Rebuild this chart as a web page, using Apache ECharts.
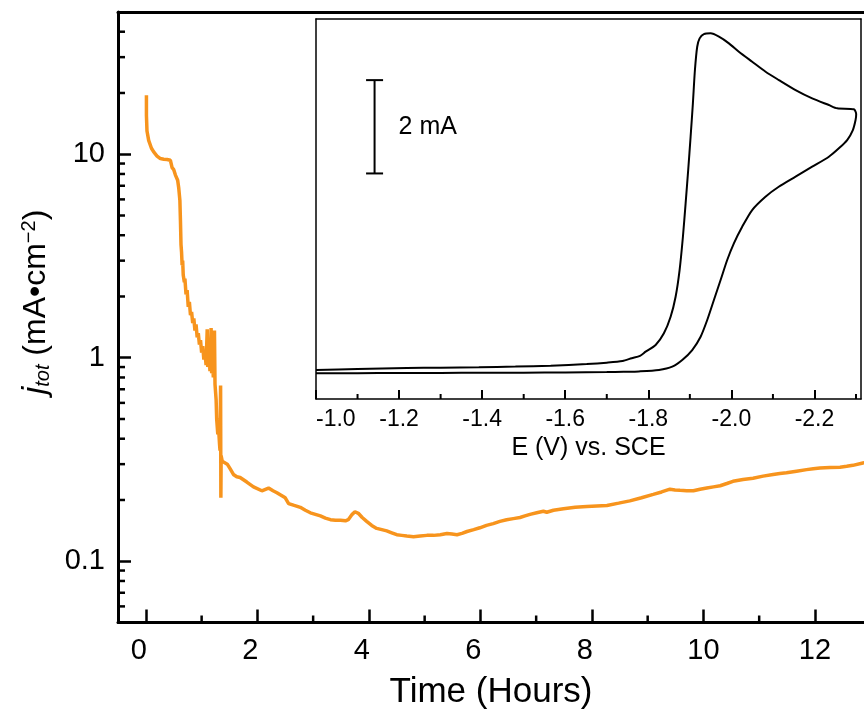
<!DOCTYPE html>
<html><head><meta charset="utf-8">
<script src="https://cdn.jsdelivr.net/npm/echarts@6/dist/echarts.min.js"></script>
<style>html,body{margin:0;padding:0;background:#fff}#c{width:864px;height:717px}</style>
</head><body><div id="c"></div>
<script>
// ---- main chart data: total current density vs time ----
const timeH = [0.01,0.01,0.02,0.05,0.10,0.14,0.20,0.26,0.32,0.38,0.44,0.46,0.47,0.50,0.53,0.57,0.59,0.61,0.62,0.63,0.64,0.65,0.66,0.67,0.69,0.70,0.72,0.74,0.76,0.78,0.80,0.82,0.84,0.86,0.88,0.90,0.92,0.94,0.96,0.98,1.00,1.02,1.04,1.06,1.08,1.10,1.11,1.13,1.15,1.17,1.18,1.20,1.21,1.23,1.24,1.26,1.27,1.29,1.30,1.32,1.33,1.34,1.345,1.35,1.37,1.40,1.46,1.51,1.57,1.63,1.69,1.72,1.81,1.93,2.08,2.20,2.28,2.35,2.50,2.56,2.66,2.77,2.86,2.95,3.04,3.13,3.22,3.31,3.40,3.49,3.58,3.63,3.70,3.75,3.81,3.88,3.96,4.05,4.14,4.23,4.32,4.41,4.50,4.59,4.68,4.80,4.92,5.04,5.16,5.28,5.40,5.49,5.58,5.67,5.76,5.88,5.99,6.11,6.23,6.35,6.47,6.59,6.71,6.80,6.89,7.01,7.13,7.19,7.31,7.49,7.70,7.91,8.09,8.27,8.48,8.68,8.89,9.10,9.25,9.40,9.49,9.58,9.70,9.82,9.94,10.06,10.18,10.30,10.42,10.53,10.71,10.89,11.07,11.25,11.37,11.49,11.67,11.85,11.97,12.09,12.27,12.45,12.57,12.68,12.86,12.95];
const jtot = [19.5,15.5,13.0,11.7,10.7,10.26,9.8,9.52,9.45,9.42,9.34,9.3,8.6,8.4,7.9,7.45,6.8,5.93,4.73,3.6,3.3,2.85,3.0,2.55,2.35,2.45,2.05,2.15,1.78,1.88,1.62,1.68,1.48,1.56,1.36,1.46,1.26,1.32,1.16,1.22,1.06,1.14,0.98,1.05,0.92,1.38,0.90,1.02,0.86,1.40,0.84,0.92,0.80,1.36,0.74,0.62,0.50,0.42,0.47,0.38,0.35,0.73,0.205,0.33,0.31,0.31,0.30,0.285,0.267,0.26,0.258,0.262,0.245,0.232,0.222,0.229,0.222,0.217,0.205,0.192,0.188,0.184,0.178,0.173,0.170,0.167,0.163,0.160,0.159,0.159,0.158,0.160,0.170,0.175,0.172,0.164,0.157,0.150,0.145,0.143,0.141,0.138,0.135,0.134,0.133,0.132,0.133,0.134,0.134,0.135,0.137,0.136,0.135,0.137,0.140,0.143,0.146,0.150,0.153,0.157,0.160,0.162,0.164,0.167,0.170,0.173,0.176,0.174,0.178,0.181,0.184,0.186,0.187,0.188,0.193,0.198,0.205,0.213,0.219,0.226,0.224,0.223,0.222,0.222,0.226,0.229,0.232,0.235,0.241,0.247,0.252,0.256,0.262,0.267,0.270,0.272,0.277,0.282,0.285,0.287,0.289,0.290,0.293,0.296,0.304,0.306];

// ---- inset data: cyclic voltammogram ----
const cvE = [-1.00,-1.10,-1.20,-1.30,-1.40,-1.50,-1.60,-1.70,-1.74,-1.7774,-1.8255,-1.8576,-1.8817,-1.9057,-1.9259,-1.9418,-1.9579,-1.974,-1.9899,-2.006,-2.026,-2.050,-2.082,-2.114,-2.1545,-2.1945,-2.2347,-2.2587,-2.2787,-2.2924,-2.2989,-2.3004,
  -2.2948,-2.2547,-2.2347,-2.1945,-2.1545,-2.1143,-2.0823,-2.050,-2.018,-1.994,-1.970,-1.950,-1.9338,-1.9235,-1.9177,-1.9122,-1.9073,-1.9018,-1.896,-1.8898,-1.8833,-1.8753,-1.8657,-1.8537,-1.8375,-1.8176,-1.7935,-1.78,-1.76,-1.738,-1.70,-1.6518,-1.565,-1.48,-1.392,-1.30,-1.2188,-1.10,-1.00];
const cvI = [-0.01,-0.01,-0.008,-0.005,-0.003,0.0,0.005,0.012,0.02,0.028,0.058,0.129,0.272,0.486,0.771,1.129,1.558,1.986,2.415,2.773,3.128,3.486,3.771,3.985,4.20,4.414,4.628,4.808,4.986,5.20,5.415,5.54,
  5.644,5.665,5.736,5.879,6.057,6.272,6.45,6.664,6.878,7.058,7.20,7.272,7.257,7.165,6.985,6.486,5.772,5.057,4.343,3.63,2.914,2.20,1.628,1.20,0.844,0.594,0.45,0.36,0.31,0.25,0.215,0.186,0.15,0.13,0.116,0.108,0.10,0.08,0.058];

// ---- ticks ----
const xTicks = [0,2,4,6,8,10,12];
const xMinorTicks = [1,3,5,7,9,11];
const yTicks = [0.1,1,10];
const yMinorTicks = [0.06,0.07,0.08,0.09,0.2,0.3,0.4,0.5,0.6,0.7,0.8,0.9,2,3,4,5,6,7,8,9,20,30,40];
const cvTicks = [-1.0,-1.2,-1.4,-1.6,-1.8,-2.0,-2.2];
const cvMinorTicks = [-1.1,-1.3,-1.5,-1.7,-1.9,-2.1,-2.3];
const scaleBarE = [-1.141];
const scaleBarLow = [4.27];
const scaleBarHigh = [6.27];
const scaleBarLabel = ['2 mA'];

const FONT = '"Liberation Sans", Arial, Helvetica, sans-serif';
const ORANGE = '#F7941D';
const X0 = -0.5, X1 = 12.88, Y0 = 0.05, Y1 = 50;
const E0 = -2.312, E1 = -1.0, I0 = -0.564, I1 = 7.58;

const chart = echarts.init(document.getElementById('c'), null, {renderer: 'canvas'});

function fmtLog(v) { return String(parseFloat(Number(v).toPrecision(3))); }
const insetLine = {show: true, onZero: false, lineStyle: {color: '#000', width: 1.5}};

function tickItem(dx, dy, w) {
  return (params, api) => {
    const p = api.coord([api.value(0), api.value(1)]);
    return {type: 'line', shape: {x1: p[0], y1: p[1], x2: p[0] + dx, y2: p[1] + dy}, style: {stroke: '#000', lineWidth: w}};
  };
}

const option = {
  animation: false,
  backgroundColor: '#fff',
  grid: [
    {left: 118, right: 0, top: 12, bottom: 94.5},
    {left: 316, top: 19, width: 545, height: 380}
  ],
  xAxis: [
    {gridIndex: 0, type: 'value', min: X0, max: X1,
     axisLine: {show: true, onZero: false, lineStyle: {color: '#000', width: 3}},
     axisTick: {show: true, inside: true, length: 13, customValues: xTicks, lineStyle: {color: '#000', width: 2.5}},
     axisLabel: {customValues: xTicks, margin: 14, fontSize: 29, color: '#000', fontFamily: FONT,
                 formatter: v => (v < 10 ? '{s|' + v + '}' : String(v)),
                 rich: {s: {fontSize: 29, fontFamily: FONT, color: '#000', padding: [0, 14, 0, 0]}}},
     splitLine: {show: false},
     name: 'Time (Hours)', nameLocation: 'middle', nameGap: 52,
     nameTextStyle: {fontSize: 35, color: '#000', fontFamily: FONT}},
    {gridIndex: 0, type: 'value', position: 'top', min: X0, max: X1,
     axisLine: {show: true, onZero: false, lineStyle: {color: '#000', width: 3}},
     axisTick: {show: false}, axisLabel: {show: false}, splitLine: {show: false}},
    {gridIndex: 1, type: 'value', inverse: true, min: E0, max: E1,
     axisLine: insetLine,
     axisTick: {show: true, inside: true, length: 9, customValues: cvTicks, lineStyle: {color: '#000', width: 2}},
     axisLabel: {customValues: cvTicks, margin: 9, fontSize: 23, color: '#000', fontFamily: FONT,
                 alignMinLabel: 'left', formatter: v => Number(v).toFixed(1)},
     splitLine: {show: false},
     name: 'E (V) vs. SCE', nameLocation: 'middle', nameGap: 36,
     nameTextStyle: {fontSize: 25, color: '#000', fontFamily: FONT}},
    {gridIndex: 1, type: 'value', inverse: true, min: E0, max: E1, position: 'top',
     axisLine: insetLine, axisTick: {show: false}, axisLabel: {show: false}, splitLine: {show: false}}
  ],
  yAxis: [
    {gridIndex: 0, type: 'log', logBase: 10, min: Y0, max: Y1,
     axisLine: {show: true, onZero: false, lineStyle: {color: '#000', width: 3}},
     axisTick: {show: true, inside: true, length: 13, customValues: yTicks, lineStyle: {color: '#000', width: 2.5}},
     axisLabel: {customValues: yTicks, margin: 13, fontSize: 29, color: '#000', fontFamily: FONT, formatter: fmtLog},
     minorTick: {show: false}, splitLine: {show: false}},
    {gridIndex: 1, type: 'value', min: I0, max: I1, position: 'left',
     axisLine: insetLine, axisTick: {show: false}, axisLabel: {show: false}, splitLine: {show: false}},
    {gridIndex: 1, type: 'value', min: I0, max: I1, position: 'right',
     axisLine: insetLine, axisTick: {show: false}, axisLabel: {show: false}, splitLine: {show: false}}
  ],
  graphic: [
    {type: 'text', x: 36, y: 302, rotation: Math.PI / 2,
     style: {
       text: '{j|j}{sub|tot} (mA•cm{sup|−2})',
       align: 'center', verticalAlign: 'middle',
       fill: '#000', fontSize: 32, fontFamily: FONT,
       rich: {
         j: {fontSize: 34, fontStyle: 'italic', fontFamily: FONT, fill: '#000'},
         sub: {fontSize: 20, fontStyle: 'italic', fontFamily: FONT, verticalAlign: 'bottom', lineHeight: 20, fill: '#000'},
         sup: {fontSize: 20, fontFamily: FONT, verticalAlign: 'top', lineHeight: 20, fill: '#000'}
       }
     }}
  ],
  series: [
    {type: 'line', xAxisIndex: 0, yAxisIndex: 0, showSymbol: false, clip: true,
     data: timeH.map((t, i) => [t, jtot[i]]),
     lineStyle: {color: ORANGE, width: 3.5}, itemStyle: {color: ORANGE}},
    {type: 'line', xAxisIndex: 2, yAxisIndex: 1, showSymbol: false, clip: true, z: 10, smooth: 0.25,
     data: cvE.map((e, i) => [e, cvI[i]]),
     lineStyle: {color: '#000', width: 2}, itemStyle: {color: '#000'}},
    {type: 'custom', xAxisIndex: 0, yAxisIndex: 0, z: 20,
     data: yMinorTicks.map(v => [X0, v]), renderItem: tickItem(7, 0, 2.5)},
    {type: 'custom', xAxisIndex: 0, yAxisIndex: 0, z: 20,
     data: xMinorTicks.map(t => [t, Y0]), renderItem: tickItem(0, -7, 2.5)},
    {type: 'custom', xAxisIndex: 2, yAxisIndex: 1, z: 20,
     data: cvMinorTicks.map(e => [e, I0]), renderItem: tickItem(0, -5, 2)},
    {type: 'custom', xAxisIndex: 2, yAxisIndex: 1, z: 20,
     data: scaleBarE.map((e, i) => [e, scaleBarLow[i], scaleBarHigh[i]]),
     renderItem: (params, api) => {
       const lo = api.coord([api.value(0), api.value(1)]);
       const hi = api.coord([api.value(0), api.value(2)]);
       const st = {stroke: '#000', lineWidth: 2};
       return {type: 'group', children: [
         {type: 'line', shape: {x1: lo[0], y1: lo[1], x2: hi[0], y2: hi[1]}, style: st},
         {type: 'line', shape: {x1: lo[0] - 8.5, y1: lo[1], x2: lo[0] + 8.5, y2: lo[1]}, style: st},
         {type: 'line', shape: {x1: hi[0] - 8.5, y1: hi[1], x2: hi[0] + 8.5, y2: hi[1]}, style: st},
         {type: 'text', x: lo[0] + 24, y: (lo[1] + hi[1]) / 2,
          style: {text: scaleBarLabel[params.dataIndex], fontSize: 25, fontFamily: FONT, fill: '#000', verticalAlign: 'middle', align: 'left'}}
       ]};
     }}
  ]
};
chart.setOption(option);
</script>
</body></html>
